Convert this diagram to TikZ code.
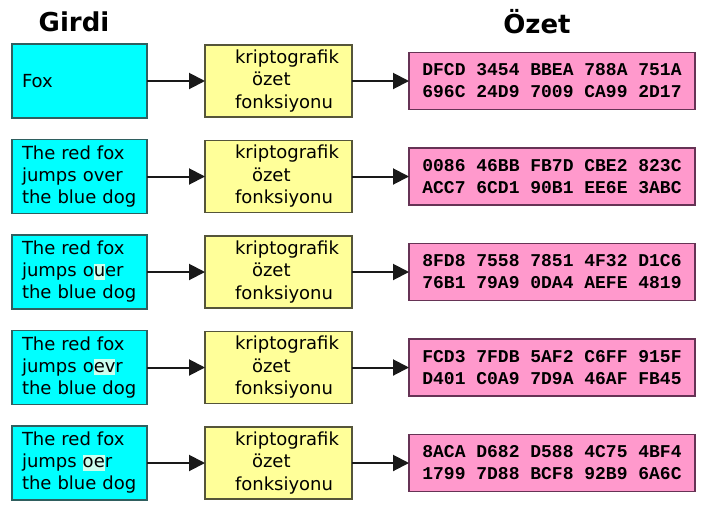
\documentclass[tikz,border=0pt]{standalone}
\usepackage{fontspec}
\setmainfont{DejaVu Sans}
\newfontfamily\hashfont{Liberation Mono}
\usetikzlibrary{arrows.meta}
\definecolor{infill}{HTML}{00FFFF}
\definecolor{inedge}{HTML}{2F5F5F}
\definecolor{fnfill}{HTML}{FFFF99}
\definecolor{fnedge}{HTML}{55553A}
\definecolor{hsfill}{HTML}{FF99CC}
\definecolor{hsedge}{HTML}{663355}
\definecolor{hlcol}{HTML}{CCFFEE}
\newcommand\hlmark[1]{{\setlength{\fboxsep}{0pt}\colorbox{hlcol}{\rule[-3pt]{0pt}{16pt}#1}}}
\begin{document}
\begin{tikzpicture}[x=1pt,y=-1pt,
  inbox/.style={draw=inedge, fill=infill, line width=1.2pt, minimum height=74pt,
    text width=115pt, inner xsep=10pt, inner ysep=0pt, outer sep=0pt, align=left,
    font=\fontsize{18}{22}\selectfont},
  fnbox/.style={draw=fnedge, fill=fnfill, line width=1.2pt, minimum height=72pt,
    text width=127pt, inner xsep=10pt, inner ysep=0pt, outer sep=0pt, align=left,
    font=\fontsize{18}{22.5}\selectfont},
  hsbox/.style={draw=hsedge, fill=hsfill, line width=1.2pt, minimum height=57pt,
    minimum width=286pt, inner sep=0pt, outer sep=0pt, align=center,
    font=\hashfont\bfseries\fontsize{18}{22}\selectfont},
  title/.style={font=\bfseries\fontsize{26}{30}\selectfont, inner sep=0pt},
  arr/.style={draw=black!90, line width=2pt, -{Triangle[length=16pt,width=16pt]}}
]
\fill[white] (0,0) rectangle (707,512);
\useasboundingbox (0,0) rectangle (707,512);

\node[title] (tin) at (74,22) {Girdi};
\node[title] (tout) at (537,22) {Özet};

% row 1
\node[inbox] (c1) at (79.5,81) {Fox};
\node[fnbox] (f1) at (278.5,81) {\hspace*{20pt}kriptografik\\\hspace*{37pt}özet\\\hspace*{20pt}fonksiyonu};
\node[hsbox] (h1) at (552,81) {DFCD 3454 BBEA 788A 751A\\696C 24D9 7009 CA99 2D17};
% row 2
\node[inbox] (c2) at (79.5,176.5) {The red fox\\jumps over\\the blue dog};
\node[fnbox] (f2) at (278.5,176.5) {\hspace*{20pt}kriptografik\\\hspace*{37pt}özet\\\hspace*{20pt}fonksiyonu};
\node[hsbox] (h2) at (552,176.5) {0086 46BB FB7D CBE2 823C\\ACC7 6CD1 90B1 EE6E 3ABC};
% row 3
\node[inbox] (c3) at (79.5,272) {The red fox\\jumps o\hlmark{u}er\\the blue dog};
\node[fnbox] (f3) at (278.5,272) {\hspace*{20pt}kriptografik\\\hspace*{37pt}özet\\\hspace*{20pt}fonksiyonu};
\node[hsbox] (h3) at (552,272) {8FD8 7558 7851 4F32 D1C6\\76B1 79A9 0DA4 AEFE 4819};
% row 4
\node[inbox] (c4) at (79.5,367.5) {The red fox\\jumps o\hlmark{ev}r\\the blue dog};
\node[fnbox] (f4) at (278.5,367.5) {\hspace*{20pt}kriptografik\\\hspace*{37pt}özet\\\hspace*{20pt}fonksiyonu};
\node[hsbox] (h4) at (552,367.5) {FCD3 7FDB 5AF2 C6FF 915F\\D401 C0A9 7D9A 46AF FB45};
% row 5
\node[inbox] (c5) at (79.5,463) {The red fox\\jumps \hlmark{oe}r\\the blue dog};
\node[fnbox] (f5) at (278.5,463) {\hspace*{20pt}kriptografik\\\hspace*{37pt}özet\\\hspace*{20pt}fonksiyonu};
\node[hsbox] (h5) at (552,463) {8ACA D682 D588 4C75 4BF4\\1799 7D88 BCF8 92B9 6A6C};

\foreach \i in {1,...,5}{
  \draw[arr] (c\i.east) -- (f\i.west);
  \draw[arr] (f\i.east) -- (h\i.west);
}
\end{tikzpicture}
\end{document}
